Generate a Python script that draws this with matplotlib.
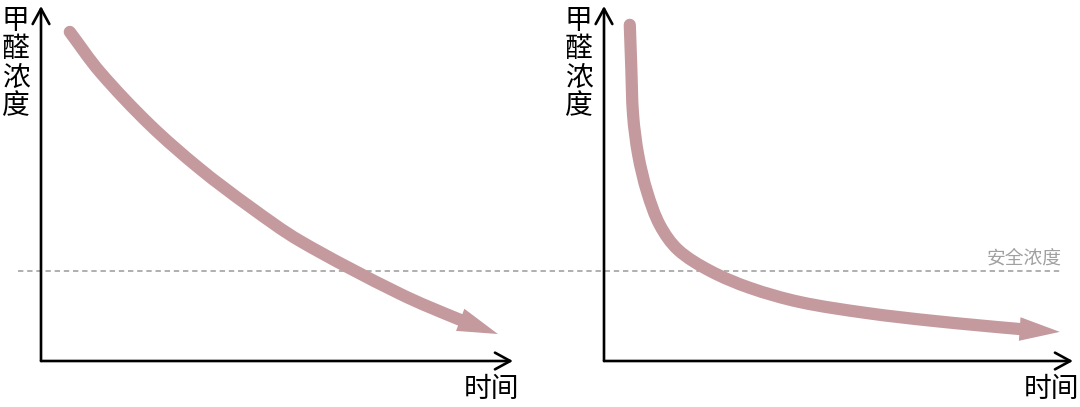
import matplotlib
matplotlib.use("Agg")
import numpy as np
import matplotlib.pyplot as plt
from matplotlib.path import Path
from matplotlib.patches import PathPatch

plt.rcParams['font.family'] = ['Noto Sans CJK SC', 'DejaVu Sans']

# ---- data (arbitrary units: time 0..10, concentration 0..10) ----
left_time = [0.61, 1.25, 2.31, 3.37, 4.43, 5.49, 7.61, 8.88]
left_conc = [9.27, 8.14, 6.65, 5.41, 4.34, 3.38, 1.89, 1.16]
left_tip = (9.68, 0.76)

right_time = [0.55, 0.58, 0.62, 0.73, 0.92, 1.19, 1.58, 2.26, 3.11,
              4.18, 5.61, 7.02, 8.87]
right_conc = [9.47, 8.34, 6.93, 5.80, 4.76, 3.83, 3.13, 2.54, 2.06,
              1.66, 1.35, 1.13, 0.90]
right_tip = (9.72, 0.82)

safe_level = 2.54
y_label = "甲醛浓度"
x_label = "时间"
safe_label = "安全浓度"

CURVE = "#c49a9e"
W, H = 1080, 407
fig = plt.figure(figsize=(W / 100, H / 100), dpi=100)
fig.patch.set_facecolor("white")


def make_axes(x0, x1, ybot, ytop):
    return fig.add_axes([x0 / W, (H - ybot) / H, (x1 - x0) / W, (ybot - ytop) / H])


axL = make_axes(41, 513, 361, 6)
axR = make_axes(604, 1073, 361, 6)


def smooth_path(ax, xs, ys, tip):
    """Chord-length Hermite spline through the points, built in display space."""
    P = ax.transData.transform(np.column_stack([xs + [tip[0]], ys + [tip[1]]]))
    n = len(xs)
    d = np.linalg.norm(np.diff(P, axis=0), axis=1)
    m = np.zeros_like(P)
    m[0] = (P[1] - P[0]) / d[0]
    for i in range(1, len(P) - 1):
        m[i] = (P[i + 1] - P[i - 1]) / (d[i - 1] + d[i])
    verts = [P[0]]
    codes = [Path.MOVETO]
    for i in range(n - 1):
        c1 = P[i] + m[i] * d[i] / 3
        c2 = P[i + 1] - m[i + 1] * d[i] / 3
        verts += [c1, c2, P[i + 1]]
        codes += [Path.CURVE4] * 3
    verts = ax.transData.inverted().transform(np.array(verts))
    return Path(verts, codes)


def draw_panel(ax, t, c, tip):
    ax.set_xlim(0, 10)
    ax.set_ylim(0, 10)
    ax.axis("off")
    # axes arrows
    for end in [(0, 10), (10, 0)]:
        ax.annotate("", xy=end, xytext=(0, 0), xycoords="data",
                    arrowprops=dict(arrowstyle="->,head_length=0.55,head_width=0.3",
                                    lw=1.9, color="black", shrinkA=0, shrinkB=0,
                                    mutation_scale=20),
                    annotation_clip=False)
    # curve shaft
    patch = PathPatch(smooth_path(ax, t, c, tip), fill=False, edgecolor=CURVE, lw=8.8,
                      capstyle="round", joinstyle="round", clip_on=False)
    ax.add_patch(patch)
    # arrow head
    ax.annotate("", xy=tip, xytext=(t[-1], c[-1]),
                arrowprops=dict(arrowstyle="-|>,head_length=29,head_width=8.5",
                                lw=0, color=CURVE, fc=CURVE, shrinkA=0, shrinkB=0,
                                mutation_scale=1),
                annotation_clip=False)
    wpx = ax.get_position().width * W
    # y label stacked vertically
    ax.text(-25.5 / wpx, 1.0, "\n".join(y_label), transform=ax.transAxes,
            ha="center", va="top", fontsize=20, linespacing=0.93, color="black")
    ax.text(1.0 - 22 / wpx, -0.08, x_label, transform=ax.transAxes,
            ha="center", va="center", fontsize=20, color="black")


draw_panel(axL, left_time, left_conc, left_tip)
draw_panel(axR, right_time, right_conc, right_tip)

# safe concentration dashed line spanning both panels
wL = 472
axL.axhline(safe_level, xmin=(18 - 41) / wL, xmax=(1062 - 41) / wL, color="#9a9a9a",
            lw=1.1, ls=(0, (3.5, 2.5)), clip_on=False, zorder=0)
axR.text(1 - 11 / 469, safe_level + 0.35, safe_label, transform=axR.get_yaxis_transform(),
         ha="right", va="center", fontsize=13.5, color="#a0a0a0")

fig.savefig("out.png", dpi=100, facecolor="white")
